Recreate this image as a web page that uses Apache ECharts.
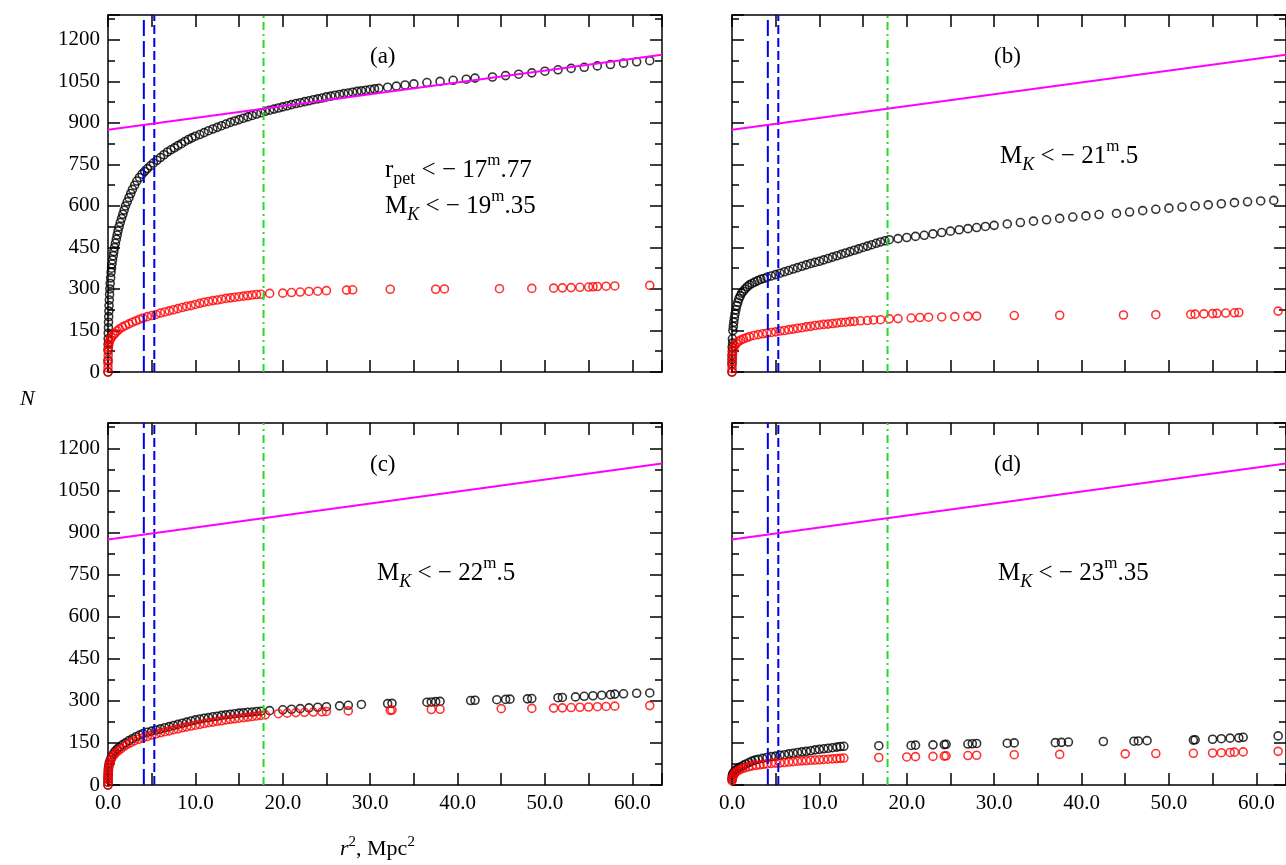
<!DOCTYPE html>
<html>
<head>
<meta charset="utf-8">
<script src="https://cdn.jsdelivr.net/npm/echarts@6/dist/echarts.min.js"></script>
<style>body{margin:0;background:#fff}</style>
</head>
<body>
<div id="chart" style="width:1286px;height:865px;"></div>
<script>
// [r^2, N]
var blackA = [[0,0],[0,40],[0,80],[0.02,120],[0.05,160],[0.08,200],[0.12,240],[0.18,280],[0.25,320],[0.35,360],[0.45,390],[0.6,420],[0.75,450],[0.95,480],[1.15,510],[1.4,540],[1.7,570],[2.0,600],[2.4,630],[2.8,660],[3.3,690],[3.9,715],[4.5,735],[5.2,755],[6,775],[6.8,795],[7.6,810],[8.4,825],[9.2,840],[10,852],[11,865],[12,878],[13,890],[14,902],[15,912],[16,922],[17,932],[18,942],[19,950],[20,958],[21,966],[22,973],[23,980],[24,987],[25,994],[26,1000],[27,1006],[28,1011],[29,1016],[30,1021],[31,1025],[32,1029],[33,1033],[34,1037],[35,1041],[36.5,1046],[38,1050],[39.5,1054],[41,1058],[42,1062],[44,1066],[45.5,1071],[47,1076],[48.5,1081],[50,1087],[51.5,1092],[53,1097],[54.5,1101],[56,1106],[57.5,1111],[59,1116],[60.5,1121],[62,1125]];
var blackAExtra = [[0.01,100],[0.03,140],[0.06,180],[0.1,220],[0.15,260],[0.21,300],[0.3,340],[0.4,375],[0.52,405],[0.67,435],[0.85,465],[1.05,495],[1.27,525],[1.55,555],[1.85,585],[2.2,615],[2.6,645],[3.05,675],[3.6,703],[4.2,725],[4.85,745],[5.6,765],[6.4,785],[7.2,803],[8,818],[8.8,833],[9.6,846],[10.5,858],[11.5,872],[12.5,884],[13.5,896],[14.5,907],[15.5,917],[16.5,927],[17.5,937],[18.5,946],[19.5,954],[20.5,962],[21.5,970],[22.5,977],[23.5,984],[24.5,990],[25.5,997],[26.5,1003],[27.5,1008],[28.5,1014],[29.5,1018],[30.5,1023]];
var redA = [[0,0],[0,30],[0.02,60],[0.05,90],[0.15,110],[0.4,125],[0.8,140],[1.3,155],[2,168],[2.8,180],[3.6,190],[4.5,200],[5.5,208],[6.5,217],[7.5,225],[8.5,233],[9.5,240],[10.5,248],[11.5,255],[12.5,260],[13.5,266],[14.5,270],[15.5,274],[16.5,278],[17.5,281],[18.5,284],[20,285],[21,287],[22,289],[23,291],[24,292],[25,294],[27.3,296],[28,297],[32.3,299],[37.5,299],[38.5,300],[44.8,301],[48.5,302],[51,303],[52,304],[53,305],[54,306],[55,307],[55.5,308],[56,309],[57,310],[58,311],[62,313]];
var redAExtra = [[0,15],[0.01,45],[0.03,75],[0.1,100],[0.27,118],[0.6,133],[1.05,148],[1.65,162],[2.4,174],[3.2,185],[4,195],[5,204],[6,213],[7,221],[8,229],[9,237],[10,244],[11,252],[12,258],[13,263],[14,268],[15,272],[16,276],[17,280]];
var blackB = [[0,0],[0,30],[0,60],[0.02,90],[0.05,120],[0.1,150],[0.2,180],[0.35,210],[0.55,240],[0.8,265],[1.1,285],[1.5,300],[2,315],[2.6,325],[3.3,335],[4,342],[5,352],[6,362],[7,372],[8,382],[9,392],[10,400],[11,410],[12,420],[13,430],[14,440],[15,450],[16,460],[17,470],[18,478],[19,482],[20,486],[21,490],[22,494],[23,499],[24,504],[25,509],[26,514],[27,518],[28,522],[29,526],[30,530],[31.5,535],[33,540],[34.5,545],[36,550],[37.5,555],[39,560],[40.5,564],[42,569],[44,573],[45.5,578],[47,583],[48.5,588],[50,592],[51.5,596],[53,600],[54.5,604],[56,608],[57.5,612],[59,615],[60.5,618],[62,620]];
var blackBExtra = [[0.01,45],[0.03,75],[0.07,105],[0.15,165],[0.27,195],[0.45,225],[0.67,252],[0.95,275],[1.3,292],[1.75,308],[2.3,320],[2.95,330],[3.65,338],[4.5,347],[5.5,357],[6.5,367],[7.5,377],[8.5,387],[9.5,396],[10.5,405],[11.5,415],[12.5,425],[13.5,435],[14.5,445],[15.5,455],[16.5,465],[17.5,474]];
var redB = [[0,0],[0,25],[0.03,50],[0.1,75],[0.3,95],[0.7,110],[1.3,120],[2,128],[3,135],[4,140],[5,145],[6,150],[7,155],[8,160],[9,165],[10,170],[11,173],[12,177],[13,180],[14,183],[15.5,186],[17,189],[18,192],[19,193],[20.5,195],[21.5,197],[22.5,198],[24,199],[25.5,200],[27,201],[28,202],[32.3,204],[37.5,205],[44.8,206],[48.5,207],[52.5,208],[53,209],[54,210],[55,211],[55.5,212],[56.5,213],[57.5,214],[58,215],[62.5,220]];
var redBExtra = [[0.01,12],[0.02,38],[0.06,62],[0.2,85],[0.5,103],[1,115],[1.65,124],[2.5,132],[3.5,138],[4.5,143],[5.5,148],[6.5,153],[7.5,158],[8.5,163],[9.5,168],[10.5,172],[11.5,175],[12.5,179],[13.5,182],[14.7,185],[16.2,188]];
var blackC = [[0,0],[0,20],[0.02,40],[0.05,60],[0.15,80],[0.4,100],[0.8,120],[1.3,135],[2,150],[2.8,165],[3.6,178],[4.5,188],[5.5,196],[6.5,204],[7.5,212],[8.5,220],[9.5,228],[10.5,235],[11.5,240],[12.5,245],[13.5,250],[14.5,254],[15.5,257],[16.5,260],[17.5,263],[18.5,265],[20,268],[21,270],[22,272],[23,275],[24,277],[25,279],[26.5,282],[27.5,284],[29,287],[32,290],[32.5,291],[36.5,295],[37,296],[37.5,297],[38,298],[41.5,301],[42,302],[44.5,304],[45.5,305],[46,306],[48,307],[48.5,308],[51.5,311],[52,312],[53.5,314],[54.5,316],[55.5,318],[56.5,320],[57.5,322],[58,324],[59,325],[60.5,327],[62,328]];
var blackCExtra = [[0,10],[0.01,30],[0.03,50],[0.1,70],[0.27,90],[0.6,110],[1.05,128],[1.65,143],[2.4,158],[3.2,172],[4,183],[5,192],[6,200],[7,208],[8,216],[9,224],[10,232],[11,238],[12,243],[13,248],[14,252],[15,256],[16,259],[17,262]];
var redC = [[0,0],[0,20],[0.03,40],[0.07,60],[0.2,80],[0.5,100],[0.9,115],[1.5,130],[2.2,145],[3,157],[4,168],[5,178],[6,186],[7,193],[8,200],[9,207],[10,213],[11,219],[12,224],[13,229],[14,234],[15,238],[16,242],[17,246],[18,250],[19.5,254],[20.5,256],[21.5,258],[22.5,259],[23.5,260],[24.5,261],[25,262],[27.5,264],[32.3,266],[32.5,267],[37,269],[38,270],[45,272],[48.5,273],[51,274],[52,275],[53,276],[54,277],[55,278],[56,279],[57,280],[58,281],[62,283]];
var redCExtra = [[0,10],[0.02,30],[0.05,50],[0.13,70],[0.35,90],[0.7,108],[1.2,123],[1.85,138],[2.6,151],[3.5,163],[4.5,173],[5.5,182],[6.5,190],[7.5,197],[8.5,204],[9.5,210],[10.5,216],[11.5,222],[12.5,227],[13.5,232],[14.5,236],[15.5,240],[16.5,244],[17.5,248]];
var blackD = [[0,20],[0.05,35],[0.2,45],[0.5,55],[1,65],[1.6,75],[2.3,85],[3,92],[4,98],[5,103],[6,108],[7,113],[8,118],[9,122],[10,127],[11,131],[12,135],[12.8,138],[16.8,140],[20.5,141],[21,142],[23,143],[24.3,144],[24.5,145],[27,146],[27.5,147],[28,148],[31.5,149],[32.3,150],[37,151],[37.7,152],[38.5,153],[42.5,155],[46,156],[46.5,157],[47.5,158],[52.8,160],[53,161],[55,163],[56,165],[57,167],[58,168],[58.5,170],[62.5,175]];
var blackDExtra = [[0.02,28],[0.1,40],[0.35,50],[0.75,60],[1.3,70],[1.95,80],[2.65,89],[3.5,95],[4.5,101],[5.5,106],[6.5,111],[7.5,116],[8.5,120],[9.5,125],[10.5,129],[11.5,133],[12.4,137]];
var redD = [[0,15],[0.1,30],[0.4,45],[0.9,55],[1.5,62],[2.3,68],[3.2,72],[4,75],[5,78],[6,80],[7,83],[8,86],[9,88],[10,90],[11,92],[12,94],[12.8,96],[16.8,98],[20,100],[21,101],[23,102],[24.3,103],[24.5,104],[27,105],[28,106],[32.3,108],[37.5,109],[45,111],[48.5,112],[52.8,113],[55,114],[56,115],[57,116],[57.5,117],[58.5,118],[62.5,120]];
var redDExtra = [[0.05,22],[0.25,38],[0.65,50],[1.2,59],[1.9,65],[2.75,70],[3.6,74],[4.5,77],[5.5,79],[6.5,82],[7.5,85],[8.5,87],[9.5,89],[10.5,91],[11.5,93],[12.4,95]];

var xMax = 63.4, yMax = 1290;
var fitLine = [[0, 875], [63.4, 1146]];
var blueLong = 4.1, blueShort = 5.3, greenX = 17.8;
var panelLetters = ['(a)', '(b)', '(c)', '(d)'];

var font = 'Liberation Serif';
var chart = echarts.init(document.getElementById('chart'));

var panels = [
  {left: 108, top: 15, h: 357, black: blackA.concat(blackAExtra), red: redA.concat(redAExtra), yl: true, xl: false},
  {left: 732, top: 15, h: 357, black: blackB.concat(blackBExtra), red: redB.concat(redBExtra), yl: false, xl: false},
  {left: 108, top: 423, h: 362, black: blackC.concat(blackCExtra), red: redC.concat(redCExtra), yl: true, xl: true},
  {left: 732, top: 423, h: 362, black: blackD.concat(blackDExtra), red: redD.concat(redDExtra), yl: false, xl: true}
];

var grid = [], xAxis = [], yAxis = [], series = [], graphic = [];
function axBase(type, pos, gi, showLabel) {
  var isX = type === 'x';
  return {
    type: 'value', gridIndex: gi, position: pos,
    min: 0, max: isX ? xMax : yMax, interval: isX ? 10 : 150,
    axisLine: {show: true, onZero: false, lineStyle: {color: '#000', width: 1.5}},
    axisTick: {show: true, inside: true, length: 12, lineStyle: {color: '#000', width: 1.5}},
    minorTick: {show: true, splitNumber: 2, length: isX ? 12 : 7, lineStyle: {color: '#000', width: 1.5}},
    splitLine: {show: false},
    axisLabel: {show: showLabel, showMaxLabel: false, fontFamily: font, fontSize: 21, color: '#000', margin: 8,
      formatter: function (v) { return isX ? v.toFixed(1) : v; }}
  };
}

panels.forEach(function (p, i) {
  grid.push({left: p.left, top: p.top, width: 554, height: p.h});
  xAxis.push(axBase('x', 'bottom', i, p.xl));
  xAxis.push(axBase('x', 'top', i, false));
  yAxis.push(axBase('y', 'left', i, p.yl));
  yAxis.push(axBase('y', 'right', i, false));
  var xi = i * 2, yi = i * 2;
  function vline(x, color, dash) {
    series.push({type: 'line', xAxisIndex: xi, yAxisIndex: yi, data: [[x, 0], [x, yMax]], symbol: 'none',
      lineStyle: {color: color, width: 2, type: dash}, z: 3, silent: true});
  }
  vline(blueLong, '#0000ee', [16, 5]);
  vline(blueShort, '#0000ee', [9, 4]);
  vline(greenX, '#22dd22', [8, 4, 2, 4]);
  series.push({type: 'line', xAxisIndex: xi, yAxisIndex: yi, data: fitLine, symbol: 'none',
    lineStyle: {color: '#ff00ff', width: 2}, z: 4});
  series.push({type: 'scatter', xAxisIndex: xi, yAxisIndex: yi, data: p.black, symbol: 'circle', symbolSize: 8,
    itemStyle: {color: 'rgba(0,0,0,0)', borderColor: '#000', borderWidth: 1.6}, z: 2});
  series.push({type: 'scatter', xAxisIndex: xi, yAxisIndex: yi, data: p.red, symbol: 'circle', symbolSize: 8,
    itemStyle: {color: 'rgba(0,0,0,0)', borderColor: '#ff0000', borderWidth: 1.6}, z: 2});
  graphic.push({type: 'text', left: p.left + 262, top: p.top + 30,
    style: {text: panelLetters[i], font: '23px "' + font + '"', fill: '#000'}});
});

var rich = {
  n: {fontFamily: font, fontSize: 25, color: '#000', lineHeight: 36},
  i: {fontFamily: font, fontSize: 18, fontStyle: 'italic', color: '#000', verticalAlign: 'bottom', lineHeight: 36},
  s: {fontFamily: font, fontSize: 18, color: '#000', verticalAlign: 'bottom', lineHeight: 36},
  m: {fontFamily: font, fontSize: 17, color: '#000', verticalAlign: 'top', lineHeight: 36}
};
function label(x, y, txt) {
  graphic.push({type: 'text', left: x, top: y, style: {text: txt, rich: rich}});
}
label(385, 152, '{n|r}{s|pet}{n| < − 17}{m|m}{n|.77}\n{n|M}{i|K}{n| < − 19}{m|m}{n|.35}');
label(1000, 138, '{n|M}{i|K}{n| < − 21}{m|m}{n|.5}');
label(377, 555, '{n|M}{i|K}{n| < − 22}{m|m}{n|.5}');
label(998, 555, '{n|M}{i|K}{n| < − 23}{m|m}{n|.35}');

graphic.push({type: 'text', left: 20, top: 388, style: {text: 'N', font: 'italic 22px "' + font + '"', fill: '#000'}});
graphic.push({type: 'text', left: 340, top: 835, style: {
  text: '{it|r}{sup|2}{t|, Mpc}{sup|2}',
  rich: {
    it: {fontFamily: font, fontStyle: 'italic', fontSize: 22, color: '#000', lineHeight: 28},
    t: {fontFamily: font, fontSize: 22, color: '#000', lineHeight: 28},
    sup: {fontFamily: font, fontSize: 15, color: '#000', verticalAlign: 'top', lineHeight: 28}
  }}});

chart.setOption({animation: false, grid: grid, xAxis: xAxis, yAxis: yAxis, series: series, graphic: graphic});
</script>
</body>
</html>
